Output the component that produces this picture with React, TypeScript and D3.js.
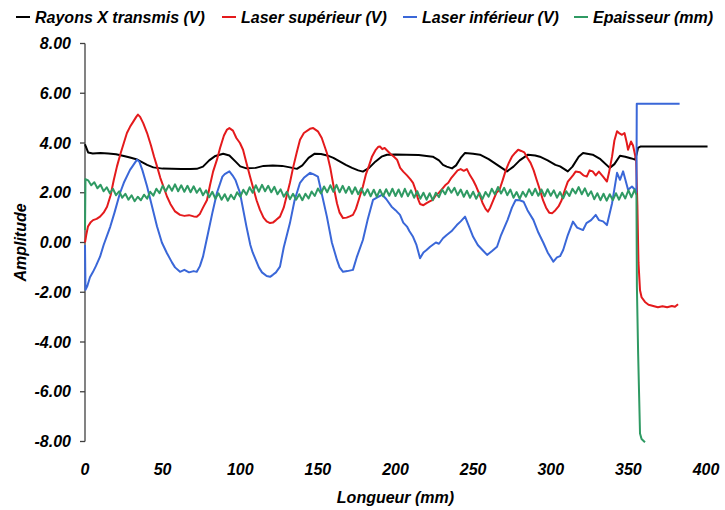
import React from "react";
import * as d3 from "d3";

// ---------- DATA ----------
const legendLabels = ["Rayons X transmis (V)", "Laser supérieur (V)", "Laser inférieur (V)", "Epaisseur (mm)"];
const seriesColors = ["#000000", "#e41a1c", "#3a67d8", "#2f9a63"];
const yTicks = [-8, -6, -4, -2, 0, 2, 4, 6, 8];
const xTicks = [0, 50, 100, 150, 200, 250, 300, 350, 400];
const xTitle = "Longueur (mm)";
const yTitle = "Amplitude";

// Rayons X transmis: [mm, V]
const rayonsX: [number, number][] = [
  [0, 3.95], [0.5, 3.86], [2, 3.62], [5, 3.58], [10, 3.6], [15, 3.58], [20, 3.55], [25, 3.48], [29, 3.42],
  [33, 3.35], [37, 3.22], [40, 3.12], [44, 3.02], [50, 2.97], [56, 2.96], [62, 2.95], [68, 2.95], [72, 2.96],
  [76, 3.05], [80, 3.3], [84, 3.48], [89, 3.57], [93, 3.5], [97, 3.25], [100, 3.06], [104, 2.98], [110, 3.0],
  [115, 3.08], [121, 3.1], [127, 3.08], [132, 3.02], [136.5, 2.96], [140, 3.1], [144, 3.4], [148, 3.57],
  [152, 3.56], [156, 3.5], [160, 3.4], [164, 3.26], [168, 3.12], [172, 3.0], [176, 2.9], [179, 2.85],
  [183, 3.0], [187, 3.25], [191, 3.45], [194.5, 3.53], [200, 3.54], [207, 3.53], [215, 3.52], [220, 3.48],
  [224, 3.45], [228, 3.3], [230.6, 3.12], [233, 3.05], [236.4, 2.98], [239, 3.1], [242, 3.4], [244.8, 3.6],
  [250, 3.57], [254.4, 3.53], [260, 3.35], [266, 3.1], [271.8, 2.86], [276, 3.05], [280, 3.3], [285.3, 3.53],
  [290, 3.5], [293, 3.45], [298, 3.3], [303, 3.12], [306, 3.06], [311, 2.86], [314, 3.05], [318, 3.45],
  [320.8, 3.6], [327, 3.53], [332, 3.35], [338, 3.0], [341, 3.15], [344.6, 3.49], [348, 3.45], [352, 3.38],
  [354.3, 3.33], [355.5, 3.6], [356.2, 3.8], [358, 3.86], [380, 3.86], [401, 3.86],
];

// Laser supérieur: [mm, V]
const laserSup: [number, number][] = [
  [0, 0.0], [0.8, 0.3], [1.9, 0.64], [3.5, 0.8], [5.2, 0.9], [7.5, 0.95], [9.7, 1.04], [12, 1.2], [14.2, 1.44],
  [16.5, 1.9], [18.5, 2.5], [20.6, 3.06], [23, 3.6], [25, 4.0], [27, 4.4], [29, 4.65], [31, 4.85], [33, 5.05],
  [34.1, 5.14], [35.5, 5.05], [37.5, 4.8], [40, 4.4], [42.5, 3.9], [44.5, 3.45], [46.4, 3.06], [48.5, 2.6],
  [50.5, 2.25], [52.8, 1.85], [55, 1.55], [58, 1.25], [61.2, 1.11], [64, 1.07], [67, 1.1], [70, 1.05], [72, 1.04],
  [74, 1.15], [76, 1.4], [78.6, 1.71], [80.5, 2.3], [82.5, 2.85], [85, 3.33], [87, 3.8], [89.5, 4.3], [91.5, 4.54],
  [93, 4.6], [95.3, 4.5], [97.5, 4.2], [99.8, 4.0], [101.8, 3.73], [104, 3.2], [106.3, 2.65], [108.5, 2.15],
  [110.5, 1.7], [112.7, 1.31], [115, 1.0], [117, 0.85], [119.2, 0.78], [121, 0.8], [123, 0.9], [125.6, 1.04],
  [128, 1.4], [130, 1.9], [132, 2.4], [134, 3.0], [136.5, 3.65], [138.5, 4.13], [141, 4.4], [144.9, 4.57],
  [147, 4.6], [150, 4.47], [152.5, 4.2], [155.8, 3.6], [158, 3.0], [160, 2.3], [162.3, 1.58], [164, 1.2],
  [166.2, 0.98], [168.5, 1.0], [170.5, 1.05], [172.6, 1.11], [174.5, 1.35], [176.5, 1.75], [179, 2.25],
  [181, 2.75], [183, 3.1], [184.9, 3.46], [187, 3.7], [189, 3.85], [190, 3.86], [191.5, 3.75], [193, 3.8],
  [195.2, 3.66], [197, 3.55], [199, 3.45], [201, 3.33], [203, 3.0], [205, 2.85], [207.4, 2.7], [209.5, 2.55],
  [211.3, 2.4], [213, 2.1], [214.5, 1.75], [215.8, 1.55], [218, 1.5], [220, 1.58], [222, 1.65], [224, 1.71],
  [226, 1.9], [228, 2.0], [230, 2.15], [232, 2.3], [234, 2.4], [236, 2.6], [238, 2.75], [240, 2.9], [242, 2.95],
  [244, 2.88], [246, 2.95], [248, 2.7], [250, 2.5], [252, 2.25], [254, 1.95], [256, 1.6], [258, 1.35],
  [259.5, 1.24], [261, 1.4], [263, 1.7], [265, 2.0], [267, 2.12], [269, 2.5], [271, 2.9], [273, 3.2],
  [275, 3.45], [277, 3.6], [279, 3.73], [281, 3.68], [283, 3.62], [285, 3.4], [287, 3.2], [289, 2.9],
  [291, 2.5], [293, 2.12], [295, 1.7], [297, 1.4], [299, 1.2], [301, 1.18], [303, 1.3], [305, 1.45],
  [307, 1.7], [309, 2.1], [311, 2.45], [313, 2.6], [314.3, 2.7], [316, 2.85], [318.8, 2.82], [321, 2.7],
  [323.2, 2.65], [325, 2.9], [327, 2.86], [329, 2.7], [331, 2.85], [333.7, 2.65], [336.2, 2.45], [337.5, 2.8],
  [339.5, 3.46], [341, 4.1], [342.7, 4.47], [344, 4.4], [345.9, 4.33], [347.5, 4.4], [349, 4.0], [349.8, 3.73],
  [351.7, 4.06], [353, 3.9], [353.6, 3.73], [355, 3.3], [355.8, 1.5], [356.5, -0.8], [357.5, -1.92],
  [358.5, -2.2], [360.7, -2.39], [363, -2.5], [366, -2.55], [369, -2.6], [372, -2.56], [375, -2.6],
  [378, -2.55], [380, -2.58], [382, -2.48],
];

// Laser inférieur: [mm, V]
const laserInf: [number, number][] = [
  [0, -0.1], [0.3, -1.9], [1.5, -1.75], [3.2, -1.4], [5, -1.2], [7, -0.95], [9.7, -0.57], [12, -0.1],
  [16.3, 0.64], [19, 1.2], [22.5, 1.98], [25, 2.4], [29, 2.92], [31, 3.1], [33.5, 3.33], [35, 3.25], [37, 2.9],
  [40, 2.25], [43, 1.5], [46.4, 0.64], [49.5, 0.0], [52.8, -0.43], [56, -0.8], [58, -1.0], [61.2, -1.18],
  [64, -1.1], [67, -1.2], [70, -1.15], [72, -1.18], [74, -0.95], [76, -0.57], [79, 0.3], [82, 1.18], [85, 2.0],
  [88.5, 2.65], [90, 2.75], [93, 2.86], [95, 2.7], [97, 2.5], [99.8, 2.0], [104, 0.64], [106.5, -0.1],
  [108, -0.4], [110, -0.7], [112, -1.0], [114, -1.2], [117, -1.35], [119.2, -1.38], [121, -1.3], [123, -1.2],
  [125.6, -0.97], [128, -0.2], [132, 0.78], [135, 1.7], [138.5, 2.4], [141, 2.6], [145, 2.8], [147, 2.75],
  [150, 2.65], [152, 2.1], [155.8, 1.04], [159, 0.0], [162.3, -0.7], [164, -1.0], [166.2, -1.18], [169, -1.15],
  [172.6, -1.1], [175, -0.6], [179, 0.1], [182, 0.9], [185.5, 1.71], [188, 1.8], [191.5, 1.92], [194, 1.75],
  [197.5, 1.44], [200, 1.3], [202.9, 1.11], [205, 0.8], [207.4, 0.64], [209, 0.45], [211.3, 0.23], [213.5, -0.1],
  [215.8, -0.63], [218, -0.4], [220, -0.3], [222.3, -0.17], [226, 0.0], [228, -0.05], [230.6, 0.17], [233, 0.3],
  [236, 0.45], [239.5, 0.7], [242, 0.85], [244.8, 1.04], [247, 0.7], [250, 0.23], [253, -0.1], [256, -0.3],
  [259, -0.5], [262, -0.35], [265.4, -0.17], [268, 0.3], [272.2, 0.91], [275, 1.4], [277.4, 1.71], [280, 1.7],
  [282.5, 1.64], [285, 1.3], [288.8, 0.91], [292, 0.4], [295.3, -0.02], [298, -0.4], [301.7, -0.77], [304, -0.6],
  [306, -0.55], [308, -0.3], [311, 0.3], [314.3, 0.84], [317, 0.6], [320.8, 0.5], [323, 0.78], [326, 0.9],
  [329, 1.11], [331, 0.9], [333.7, 0.85], [336.2, 0.7], [339.5, 1.58], [342.7, 2.8], [344.6, 2.52],
  [346.6, 2.86], [349.8, 2.12], [352.3, 2.25], [354.3, 2.12], [355.2, 2.0], [355.4, 5.58], [370, 5.58],
  [383, 5.58],
];

// Epaisseur: head and tail as [mm, mm], body sampled every 2 mm from 2 to 354
const epaisseurHead: [number, number][] = [[0, 0.5], [0.3, 2.55]];
const epaisseurBody: number[] = [
  2.5, 2.3, 2.42, 2.18, 2.32, 2.06, 2.22, 1.98, 2.16, 1.9,
  2.06, 1.8, 1.96, 1.72, 1.9, 1.66, 1.84, 1.7, 1.92, 1.76,
  2.04, 1.88, 2.16, 1.98, 2.28, 2.06, 2.3, 2.08, 2.34, 2.06,
  2.3, 2.04, 2.28, 2.02, 2.26, 2.0, 2.18, 1.9, 2.1, 1.82,
  2.04, 1.76, 1.98, 1.72, 1.94, 1.68, 1.92, 1.74, 2.02, 1.84,
  2.12, 1.92, 2.22, 2.0, 2.3, 2.04, 2.32, 2.06, 2.28, 2.02,
  2.24, 1.94, 2.14, 1.84, 2.04, 1.74, 1.96, 1.72, 1.94, 1.7,
  1.96, 1.77, 2.05, 1.87, 2.17, 1.97, 2.25, 2.02, 2.3, 2.04,
  2.32, 2.02, 2.28, 2.0, 2.24, 1.96, 2.22, 1.94, 2.18, 1.9,
  2.14, 1.86, 2.12, 1.84, 2.12, 1.86, 2.14, 1.88, 2.16, 1.87,
  2.13, 1.84, 2.16, 1.86, 2.1, 1.8, 2.06, 1.76, 2.0, 1.72,
  1.98, 1.7, 2.0, 1.82, 2.13, 1.94, 2.22, 2.0, 2.2, 1.9,
  2.13, 1.84, 2.08, 1.8, 2.04, 1.76, 2.0, 1.74, 2.03, 1.84,
  2.16, 1.94, 2.23, 1.97, 2.2, 1.9, 2.13, 1.8, 2.03, 1.76,
  2.04, 1.84, 2.14, 1.9, 2.16, 1.88, 2.13, 1.86, 2.14, 1.88,
  2.1, 1.8, 2.03, 1.77, 2.06, 1.87, 2.16, 1.97, 2.23, 1.94,
  2.18, 1.87, 2.06, 1.74, 1.98, 1.7, 1.96, 1.68, 1.94, 1.7,
  1.98, 1.72, 2.0, 1.77, 2.1, 1.82, 2.13,
];
const epaisseurTail: [number, number][] = [
  [355.2, 1.9], [355.5, -1.8], [356.3, -4.5], [357.5, -7.68], [358.5, -7.9], [360.7, -8.03],
];

// ---------- CHART ----------
const W = 725;
const H = 510;
const FONT = "'Liberation Sans', Arial, sans-serif";

export default function App() {
  const x = d3.scaleLinear().domain([0, 400]).range([85, 706]);
  const y = d3.scaleLinear().domain([-8, 8]).range([441.5, 43.5]);

  const epaisseur: [number, number][] = [
    ...epaisseurHead,
    ...epaisseurBody.map((v, i) => [2 + i * 2, v] as [number, number]),
    ...epaisseurTail,
  ];
  const series = [rayonsX, laserSup, laserInf, epaisseur];

  const line = d3
    .line<[number, number]>()
    .x((d) => x(d[0]))
    .y((d) => y(d[1]));

  const legendX = [16, 222, 403, 574];

  return (
    <svg
      width={W}
      height={H}
      style={{ position: "absolute", left: 0, top: 0, background: "#fff" }}
      fontFamily={FONT}
      fontWeight="bold"
      fontStyle="italic"
    >
      {/* legend */}
      {legendLabels.map((lab, i) => (
        <g key={lab} transform={`translate(${legendX[i]},0)`}>
          <line x1={0} x2={14} y1={17} y2={17} stroke={seriesColors[i]} strokeWidth={2} />
          <text x={19} y={17} dy="0.35em" fontSize={16} fill="#000">
            {lab}
          </text>
        </g>
      ))}

      {/* y axis */}
      <line x1={x(0)} x2={x(0)} y1={y(8)} y2={y(-8)} stroke="#404040" strokeWidth={1.3} />
      {yTicks.map((t) => (
        <g key={t}>
          <line x1={x(0) - 5} x2={x(0)} y1={y(t)} y2={y(t)} stroke="#404040" strokeWidth={1.3} />
          <text x={71} y={y(t)} dy="0.35em" textAnchor="end" fontSize={16} fill="#000">
            {t.toFixed(2)}
          </text>
        </g>
      ))}

      {/* x tick labels */}
      {xTicks.map((t) => (
        <text key={t} x={x(t)} y={469} dy="0.35em" textAnchor="middle" fontSize={16} fill="#000">
          {t}
        </text>
      ))}

      {/* titles */}
      <text x={(x(0) + x(400)) / 2} y={497} dy="0.35em" textAnchor="middle" fontSize={16} fill="#000">
        {xTitle}
      </text>
      <text
        transform={`translate(20,${y(0)}) rotate(-90)`}
        textAnchor="middle"
        dy="0.35em"
        fontSize={16}
        fill="#000"
      >
        {yTitle}
      </text>

      {/* series */}
      {series.map((s, i) => (
        <path
          key={i}
          d={line(s) || ""}
          fill="none"
          stroke={seriesColors[i]}
          strokeWidth={2}
          strokeLinejoin="round"
        />
      ))}
    </svg>
  );
}
